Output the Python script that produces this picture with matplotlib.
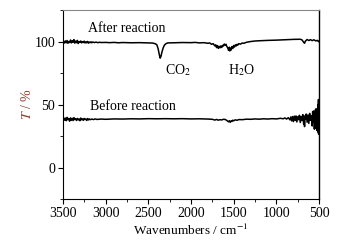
import matplotlib
matplotlib.use('Agg')
from matplotlib import pyplot as plt
from matplotlib.ticker import MultipleLocator

# FTIR transmittance
after_wn = [3500, 3490, 3480, 3470, 3460, 3450, 3440, 3430, 3420, 3410, 3400, 3390, 3380, 3370,
            3360, 3350, 3340, 3330, 3320, 3310, 3300, 3290, 3280, 3270, 3260, 3250, 3240, 3230,
            3220, 3210, 3200, 3190, 3180, 3170, 3160, 3150, 3130, 3110, 3090, 3070, 3050, 3000,
            2950, 2900, 2850, 2800, 2700, 2600, 2500, 2450, 2420, 2400, 2385, 2370, 2360, 2350,
            2340, 2325, 2310, 2290, 2270, 2200, 2100, 2000, 1950, 1900, 1850, 1800, 1780, 1760,
            1740, 1720, 1710, 1700, 1690, 1680, 1670, 1660, 1650, 1640, 1630, 1620, 1610, 1600,
            1590, 1580, 1570, 1560, 1550, 1545, 1540, 1530, 1520, 1510, 1500, 1490, 1480, 1470,
            1460, 1450, 1440, 1420, 1400, 1380, 1350, 1300, 1250, 1200, 1100, 1000, 900, 800,
            720, 700, 680, 670, 660, 640, 620, 600, 580, 560, 540, 520, 505, 500]
after_t = [98.5, 100.2, 98.8, 100.5, 99.0, 100.8, 98.6, 100.1, 99.2, 101.2, 98.9, 100.6, 99.4, 101.5,
           98.7, 100.3, 99.1, 100.9, 98.4, 100.0, 99.3, 100.4, 98.9, 99.9, 99.2, 100.3, 98.8, 99.7,
           99.0, 100.1, 98.7, 99.6, 99.1, 99.8, 99.0, 99.6, 99.2, 99.5, 99.1, 99.4, 99.2, 99.3,
           99.1, 99.3, 99.0, 99.2, 99.0, 99.1, 98.9, 98.8, 98.3, 97.5, 94.5, 89.5, 86.8, 88.5,
           91.5, 95.0, 97.2, 98.4, 98.9, 99.0, 99.2, 99.1, 99.3, 98.9, 99.1, 98.6, 98.9, 97.8,
           98.3, 96.5, 97.4, 95.2, 96.8, 94.6, 96.2, 95.0, 96.5, 95.3, 97.0, 96.4, 98.0, 97.2,
           97.8, 96.0, 95.2, 93.0, 95.5, 92.5, 94.8, 93.2, 96.0, 94.5, 96.8, 95.6, 97.4, 96.5,
           97.8, 97.2, 98.3, 97.9, 98.8, 98.6, 99.4, 100.0, 100.4, 100.6, 100.9, 101.1, 101.4, 101.7,
           101.8, 101.3, 99.4, 98.6, 100.3, 101.6, 100.8, 101.5, 100.7, 101.4, 100.5, 100.9, 99.8, 100.2]

before_wn = [3500, 3490, 3480, 3470, 3460, 3450, 3440, 3430, 3420, 3410, 3400, 3390, 3380, 3370,
             3360, 3350, 3340, 3330, 3320, 3310, 3300, 3290, 3280, 3270, 3260, 3250, 3240, 3230,
             3220, 3210, 3200, 3190, 3180, 3160, 3140, 3120, 3100, 3050, 3000, 2900, 2800, 2700,
             2600, 2500, 2400, 2300, 2200, 2100, 2000, 1900, 1800, 1750, 1720, 1700, 1680, 1660,
             1640, 1620, 1600, 1580, 1560, 1550, 1540, 1530, 1520, 1510, 1500, 1480, 1460, 1440,
             1400, 1350, 1300, 1250, 1200, 1150, 1100, 1050, 1000, 950, 920, 900, 880, 860,
             840, 830, 820, 810, 800, 790, 780, 770, 760, 750, 740, 730, 720, 710,
             700, 690, 680, 675, 670, 665, 660, 650, 640, 630, 620, 610, 600, 590,
             580, 575, 570, 560, 555, 550, 545, 540, 535, 530, 525, 520, 515, 512,
             510, 507, 505, 503, 501, 500]
before_t = [38.0, 39.5, 37.6, 39.2, 37.2, 39.8, 37.9, 38.9, 36.8, 39.4, 37.5, 39.1, 37.3, 39.6,
            38.0, 38.8, 37.4, 39.0, 37.8, 38.6, 37.2, 39.3, 37.9, 38.7, 37.5, 39.0, 38.1, 38.5,
            37.4, 38.9, 37.8, 38.6, 38.0, 38.5, 38.1, 38.6, 38.2, 38.5, 38.3, 38.6, 38.5, 38.7,
            38.6, 38.8, 38.7, 38.8, 38.7, 38.8, 38.6, 38.7, 38.5, 38.3, 37.7, 38.2, 37.6, 38.0,
            37.8, 38.3, 38.2, 37.4, 36.3, 37.2, 35.9, 37.0, 36.6, 37.6, 37.1, 37.9, 37.5, 38.1,
            38.0, 38.4, 38.3, 38.6, 38.4, 38.7, 38.5, 38.8, 38.6, 39.1, 38.7, 39.4, 38.5, 39.6,
            37.8, 40.2, 37.0, 40.5, 36.5, 40.8, 37.4, 41.0, 36.2, 40.3, 38.0, 41.5, 35.8, 40.6,
            37.3, 42.0, 34.5, 41.0, 32.5, 40.0, 38.5, 42.5, 36.0, 41.8, 35.0, 43.0, 37.5, 41.0,
            33.0, 44.5, 36.5, 45.0, 30.5, 42.0, 35.0, 46.5, 31.0, 43.5, 29.5, 47.0, 32.0, 50.0,
            28.0, 54.0, 26.5, 52.0, 30.0, 40.0]

plt.rcParams['font.family'] = ['Liberation Serif', 'DejaVu Serif']
plt.rcParams['mathtext.fontset'] = 'stix'

fig = plt.figure(figsize=(3.51, 2.44), dpi=100)
ax = fig.add_axes([0.179, 0.184, 0.730, 0.775])
ax.plot(after_wn, after_t, color='black', lw=1.1)
ax.plot(before_wn, before_t, color='black', lw=1.1)

ax.set_xlim(3500, 500)
ax.set_ylim(-25, 125)
ax.xaxis.set_major_locator(MultipleLocator(500))
ax.xaxis.set_minor_locator(MultipleLocator(250))
ax.yaxis.set_major_locator(MultipleLocator(50))
ax.yaxis.set_minor_locator(MultipleLocator(25))
ax.tick_params(which='major', direction='out', length=3.5, width=0.8, labelsize=10, pad=2)
ax.tick_params(which='minor', direction='out', length=2, width=0.6)
ax.spines['top'].set_color('#888888')
ax.spines['right'].set_linewidth(1.0)

ax.text(3200, 110.5, 'After reaction', fontsize=10, va='center')
ax.text(2300, 77, 'CO$_2$', fontsize=10, va='center')
ax.text(1570, 77, 'H$_2$O', fontsize=10, va='center')
ax.text(3180, 48.5, 'Before reaction', fontsize=10, va='center')

ax.set_xlabel('Wavenumbers / cm$^{-1}$', fontsize=9.5, labelpad=2)
ax.set_ylabel('$T$ / %', fontsize=10, color='#8b3a2a', va='center')
ax.yaxis.set_label_coords(-0.14, 0.5)

fig.savefig('out.png', dpi=100)
